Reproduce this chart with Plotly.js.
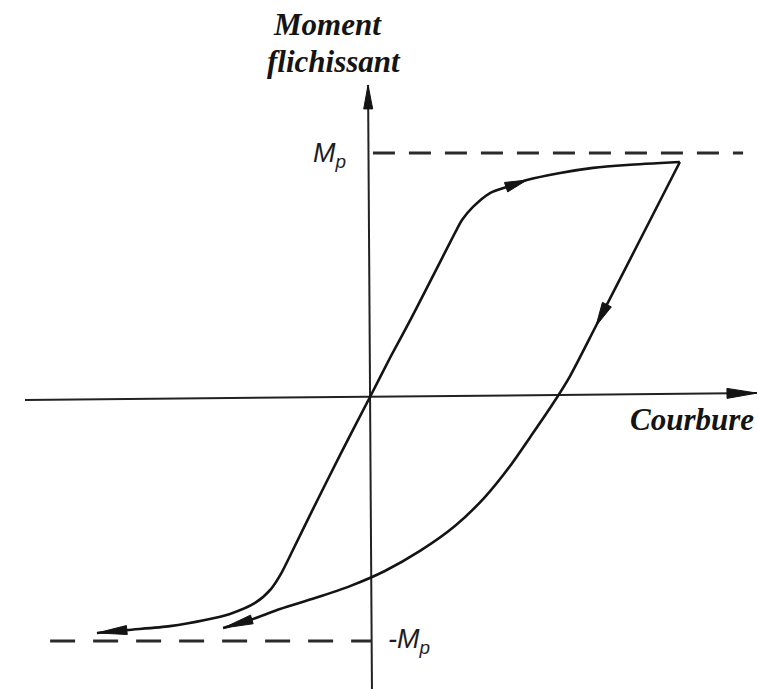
<!DOCTYPE html>
<html>
<head>
<meta charset="utf-8">
<script src="https://cdn.plot.ly/plotly-3.0.1.min.js"></script>
<style>
  html, body { margin: 0; padding: 0; background: #ffffff; }
  #chart { width: 758px; height: 689px; }
</style>
</head>
<body>
<div id="chart"></div>
<script>
// Moment–curvature hysteresis loop, moment expressed in units of the plastic moment Mp.
const Mp = 1;

// Virgin (skeleton) curve: from the negative tail, through the origin, up to the peak
const skeletonCurv = [-1.119, -0.996, -0.820, -0.676, -0.574, -0.471, -0.406, -0.365, -0.316, -0.246, -0.123, 0.000,
                      0.086, 0.172, 0.287, 0.348, 0.377, 0.422, 0.492, 0.561, 0.643, 0.779, 0.914, 1.053, 1.270];
const skeletonMom  = [-0.967, -0.955, -0.939, -0.914, -0.889, -0.844, -0.787, -0.725, -0.627, -0.484, -0.238, 0.000,
                      0.168, 0.328, 0.553, 0.672, 0.725, 0.779, 0.836, 0.861, 0.889, 0.918, 0.939, 0.951, 0.963];

// Unloading / reverse loading branch from the peak down towards -Mp
const reverseCurv = [1.270, 1.098, 0.926, 0.820, 0.746, 0.668, 0.574, 0.471, 0.348, 0.205, 0.061, -0.082,
                     -0.225, -0.369, -0.492, -0.602];
const reverseMom  = [0.963, 0.627, 0.291, 0.086, -0.033, -0.148, -0.283, -0.410, -0.529, -0.631, -0.713, -0.775,
                     -0.824, -0.869, -0.914, -0.947];

// Axis extents (curvature axis slightly skewed as on the original drawing)
const curvAxisX = [-1.414, 1.586];
const curvAxisY = [-0.012, 0.016];
const momAxisX  = [0.008, -0.008];
const momAxisY  = [-1.197, 1.279];

// Plastic moment reference lines
const mpLineX  = [0.012, 1.529];
const negLineX = [-1.311, 0.008];

// Labels
const yLabel1 = 'Moment';
const yLabel2 = 'flichissant';
const xLabel  = 'Courbure';
const mpLabel = 'M<sub>p</sub>';
const negMpLabel = '-M<sub>p</sub>';

const W = 758, H = 689;
const xRange = [-370 / 244, 388 / 244];
const yRange = [-292 / 244, 397 / 244];
const XPX = W / (xRange[1] - xRange[0]);
const YPX = H / (yRange[1] - yRange[0]);

const INK = '#141414';

// Filled arrowhead with its tip on `tip`, pointing away from `from` (lengths in px)
function arrowHead(tip, from, len, half) {
  const dx = (tip[0] - from[0]) * XPX, dy = (tip[1] - from[1]) * YPX;
  const n = Math.hypot(dx, dy);
  const ux = dx / n, uy = dy / n;
  const tx = tip[0] * XPX, ty = tip[1] * YPX;
  const bx = tx - ux * len, by = ty - uy * len;
  const pts = [[tx, ty], [bx - uy * half, by + ux * half], [bx + uy * half, by - ux * half], [tx, ty]];
  return {
    type: 'scatter', mode: 'lines', fill: 'toself', fillcolor: INK,
    line: { color: INK, width: 1 }, hoverinfo: 'skip',
    x: pts.map(p => p[0] / XPX), y: pts.map(p => p[1] / YPX)
  };
}

const pt = (xs, ys, i) => [xs[i], ys[i]];
const last = a => a.length - 1;

const traces = [
  // axes
  { type: 'scatter', mode: 'lines', x: curvAxisX, y: curvAxisY, line: { color: '#222', width: 2 }, hoverinfo: 'skip' },
  { type: 'scatter', mode: 'lines', x: momAxisX, y: momAxisY, line: { color: '#222', width: 2 }, hoverinfo: 'skip' },
  // Mp and -Mp reference lines
  { type: 'scatter', mode: 'lines', x: mpLineX, y: [Mp, Mp], line: { color: '#2a2a2a', width: 3, dash: '22px,14px' }, hoverinfo: 'skip' },
  { type: 'scatter', mode: 'lines', x: negLineX, y: [-Mp, -Mp], line: { color: '#2a2a2a', width: 3, dash: '25px,18px' }, hoverinfo: 'skip' },
  // loop branches
  { type: 'scatter', mode: 'lines', x: skeletonCurv, y: skeletonMom,
    line: { color: INK, width: 2.6, shape: 'spline', smoothing: 0.7 }, hoverinfo: 'skip' },
  { type: 'scatter', mode: 'lines', x: reverseCurv, y: reverseMom,
    line: { color: INK, width: 2.6, shape: 'spline', smoothing: 0.7 }, hoverinfo: 'skip' },
  // axis arrowheads
  arrowHead([curvAxisX[1], curvAxisY[1]], [curvAxisX[0], curvAxisY[0]], 30, 5),
  arrowHead([momAxisX[1], momAxisY[1]], [momAxisX[0], momAxisY[0]], 24, 4.5),
  // direction arrows on the loop
  arrowHead(pt(skeletonCurv, skeletonMom, 0), pt(skeletonCurv, skeletonMom, 1), 30, 4.5),
  arrowHead(pt(skeletonCurv, skeletonMom, 20), pt(skeletonCurv, skeletonMom, 19), 22, 5),
  arrowHead(pt(reverseCurv, reverseMom, 2), pt(reverseCurv, reverseMom, 1), 24, 5),
  arrowHead(pt(reverseCurv, reverseMom, last(reverseCurv)), pt(reverseCurv, reverseMom, last(reverseCurv) - 1), 30, 4.5)
];

const titleFont = { family: 'Liberation Serif, Times New Roman, serif', size: 31, color: INK, weight: 'bold', style: 'italic' };
const mpFont = { family: 'Liberation Sans, Arial, sans-serif', size: 27, color: '#1e1e1e', style: 'italic' };

const annotations = [
  { x: -0.176, y: 1.527, text: yLabel1, showarrow: false, xanchor: 'center', yanchor: 'middle', font: titleFont },
  { x: -0.148, y: 1.375, text: yLabel2, showarrow: false, xanchor: 'center', yanchor: 'middle', font: titleFont },
  { x: 1.320, y: -0.092, text: xLabel, showarrow: false, xanchor: 'center', yanchor: 'middle', font: titleFont },
  { x: -0.164, y: Mp - 0.01, text: mpLabel, showarrow: false, xanchor: 'center', yanchor: 'middle', font: mpFont },
  { x: 0.066, y: -Mp, text: negMpLabel, showarrow: false, xanchor: 'left', yanchor: 'middle', font: mpFont }
];

const layout = {
  width: W, height: H,
  margin: { l: 0, r: 0, t: 0, b: 0, pad: 0 },
  paper_bgcolor: '#ffffff', plot_bgcolor: '#ffffff',
  showlegend: false,
  xaxis: { range: xRange, visible: false, fixedrange: true },
  yaxis: { range: yRange, visible: false, fixedrange: true },
  annotations: annotations
};

Plotly.newPlot('chart', traces, layout, { displayModeBar: false, staticPlot: true });
</script>
</body>
</html>
